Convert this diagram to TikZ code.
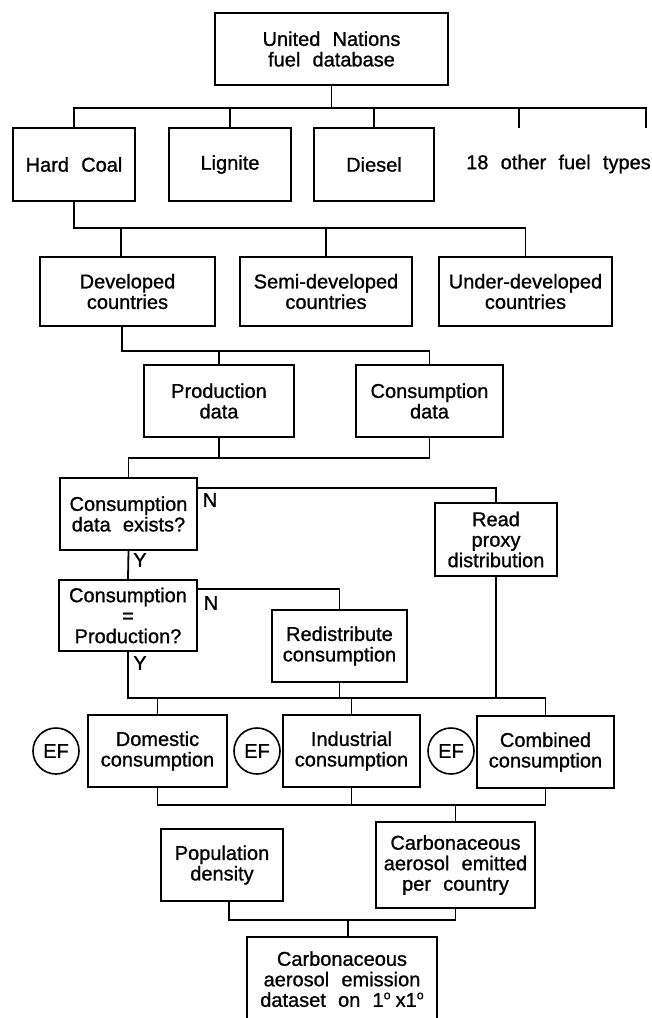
\documentclass[tikz,border=0pt]{standalone}
\usepackage{fontspec}
\setmainfont{Liberation Sans}[WordSpace=2.2,FakeBold=1]
\usetikzlibrary{calc}
\newcommand\fs{\fontsize{20}{20.5}\selectfont}
\newcommand\degsup{\raisebox{7.5pt}{\fontsize{12.5}{12.5}\selectfont o}}
\begin{document}
\begin{tikzpicture}[x=1pt,y=-1pt,
  bx/.style={draw,line width=1.8pt,align=center,inner sep=0pt,font=\fs},
  ln/.style={line width=1.8pt},
  lbl/.style={inner sep=0pt,font=\fs},
  ef/.style={draw,circle,line width=1.6pt,minimum size=46pt,inner sep=0pt,font=\fs}]
\useasboundingbox (0,0) rectangle (652,1018);
\clip (0,0) rectangle (652,1018);
% nodes
\node[bx,minimum width=233pt,minimum height=72pt] (un) at (331.5,49) {United Nations\\fuel database};
\node[bx,minimum width=122pt,minimum height=73pt] (hc) at (74,164.5) {Hard Coal};
\node[bx,minimum width=122pt,minimum height=73pt] (lig) at (230,164.5) {Lignite};
\node[bx,minimum width=120pt,minimum height=73pt] (die) at (374,164.5) {Diesel};
\node[lbl] (oth) at (558.5,164) {18 other fuel types};
\coordinate (o1) at (519,128);
\coordinate (o2) at (646,128);
\node[bx,minimum width=175pt,minimum height=69pt] (dev) at (127.5,291.5) {Developed\\countries};
\node[bx,minimum width=172pt,minimum height=69pt] (semi) at (326,291.5) {Semi-developed\\countries};
\node[bx,minimum width=173pt,minimum height=69pt] (und) at (525.5,291.5) {Under-developed\\countries};
\node[bx,minimum width=150pt,minimum height=72pt] (prod) at (219,401) {Production\\data};
\node[bx,minimum width=147pt,minimum height=72pt] (cd) at (429.5,401) {Consumption\\data};
\node[bx,minimum width=137pt,minimum height=72pt] (cde) at (128.5,514) {Consumption\\data exists?};
\node[bx,minimum width=122pt,minimum height=73pt] (rp) at (496,539.5) {Read\\proxy\\distribution};
\node[bx,minimum width=138pt,minimum height=71pt] (cep) at (128,615.5) {Consumption\\=\\Production?};
\node[bx,minimum width=135pt,minimum height=72pt] (red) at (339.5,646) {Redistribute\\consumption};
\node[bx,minimum width=139pt,minimum height=72pt] (dom) at (157.5,751) {Domestic\\consumption};
\node[bx,minimum width=137pt,minimum height=72pt] (ind) at (351.5,751) {Industrial\\consumption};
\node[bx,minimum width=137pt,minimum height=72pt] (comb) at (545.5,752) {Combined\\consumption};
\node[ef] (ef1) at (56,751) {EF};
\node[ef] (ef2) at (257,751) {EF};
\node[ef] (ef3) at (451,751) {EF};
\node[bx,minimum width=122pt,minimum height=72pt] (pop) at (222,865) {Population\\density};
\node[bx,minimum width=159pt,minimum height=86pt] (cae) at (455.5,865) {Carbonaceous\\aerosol emitted\\per country};
\node[bx,minimum width=190pt,inner ysep=14.4pt,anchor=north] (fin) at (342,936) {Carbonaceous\\aerosol emission\\dataset on 1\degsup\hspace{5pt}x1\degsup};
% labels
\node[lbl] (n1) at (210,500) {N};
\node[lbl] (y1) at (140,560) {Y};
\node[lbl] (n2) at (211,603) {N};
\node[lbl] (y2) at (140,663) {Y};
% bus coordinates
\coordinate (b1) at (0,108);
\coordinate (b2) at (0,228);
\coordinate (b3) at (0,351);
\coordinate (b4) at (0,458);
\coordinate (b5) at (0,698);
\coordinate (b6) at (0,805);
\coordinate (b7) at (0,920);
% connectors
\draw[ln] (un.south) -- (un.south |- b1);
\draw[ln] (hc.north) |- (o2 |- b1) -- (o2);
\draw[ln] (lig.north) -- (lig.north |- b1);
\draw[ln] (die.north) -- (die.north |- b1);
\draw[ln] (o1) -- (o1 |- b1);
\draw[ln] (hc.south) |- (und.north |- b2) -- (und.north);
\draw[ln] ([xshift=-6.5pt]dev.north) -- ([xshift=-6.5pt]dev.north |- b2);
\draw[ln] (semi.north) -- (semi.north |- b2);
\draw[ln] ([xshift=-5.5pt]dev.south) |- (cd.north |- b3) -- (cd.north);
\draw[ln] (prod.north) -- (prod.north |- b3);
\draw[ln] (cd.south) |- (cde.north |- b4) -- (cde.north);
\draw[ln] (prod.south) -- (prod.south |- b4);
\draw[ln] ($(cde.north east)+(0,11)$) -| (rp.north);
\draw[ln] (cde.south) -- (cep.north);
\draw[ln] ($(cep.north east)+(0,10)$) -| (red.north);
\draw[ln] (cep.south) |- (comb.north |- b5) -- (comb.north);
\draw[ln] (red.south) -- (red.south |- b5);
\draw[ln] (rp.south) -- (rp.south |- b5);
\draw[ln] (dom.north) -- (dom.north |- b5);
\draw[ln] (ind.north) -- (ind.north |- b5);
\draw[ln] (dom.south) |- (comb.south |- b6) -- (comb.south);
\draw[ln] (ind.south) -- (ind.south |- b6);
\draw[ln] (cae.north |- b6) -- (cae.north);
\draw[ln] ([xshift=7pt]pop.south) |- (cae.south |- b7) -- (cae.south);
\draw[ln] ([xshift=6pt]fin.north |- b7) -- ([xshift=6pt]fin.north);
\end{tikzpicture}
\end{document}
